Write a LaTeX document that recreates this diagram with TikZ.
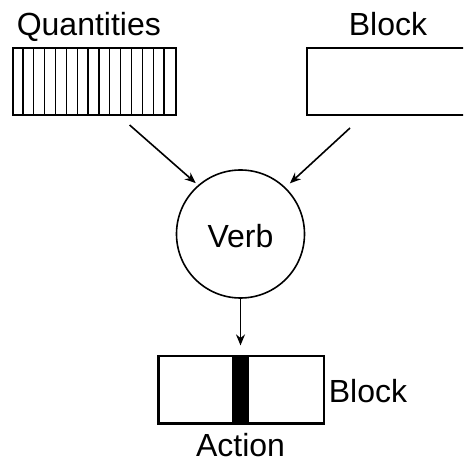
\documentclass[tikz,border=0pt]{standalone}
\usepackage{fontspec}
\setmainfont{Liberation Sans}
\usetikzlibrary{arrows.meta,calc}
\begin{document}
\begin{tikzpicture}[x=1pt,y=1pt,
  line width=1.6pt,
  lbl/.style={inner sep=0pt,font=\fontsize{32}{38}\selectfont},
  box/.style={draw,rectangle,inner sep=0pt,minimum width=163pt,minimum height=67pt},
  arr/.style={-{Stealth[length=11pt,width=9pt]},line width=1.6pt}]
\useasboundingbox (0,0) rectangle (463,463);
\clip (0,0) rectangle (463,463);

% input boxes
\node[box,anchor=south west] (q) at (12,347) {};
\foreach \i in {1,...,14}
  \draw[line width=1.3pt] ($(q.south west)+(\i*10.8667,0)$) -- ($(q.north west)+(\i*10.8667,0)$);
\node[box,anchor=south west,minimum width=170pt] (b) at (306,347) {};
\node[lbl,anchor=base west] (qt) at (16,427) {Quantities};
\node[lbl,anchor=base west] (bt) at (348,427) {Block};

% verb
\node[draw,circle,minimum size=128pt,inner sep=0pt] (verb) at (240.5,229) {};
\node[lbl,anchor=base] (vt) at (240.5,215) {Verb};

% resulting block
\node[box,anchor=south west,minimum width=165pt] (act) at (158,39) {};
\fill (232,39) rectangle (249,106);
\draw (act.south west) rectangle (act.north east);
\node[lbl,anchor=base west] (at) at (328,60) {Block};
\node[lbl,anchor=base] (actt) at (240.5,6) {Action};

% connectors
\coordinate (qs) at ($(q.south east)+(-47,-9)$);
\coordinate (bs) at ($(b.south west)+(44,-12)$);
\draw[arr,shorten >=3pt] (qs) -- (verb.131);
\draw[arr,shorten >=6pt] (bs) -- (verb.46);
\draw[arr,shorten >=10pt] (verb.south) -- (verb.south |- act.north);
\end{tikzpicture}
\end{document}
